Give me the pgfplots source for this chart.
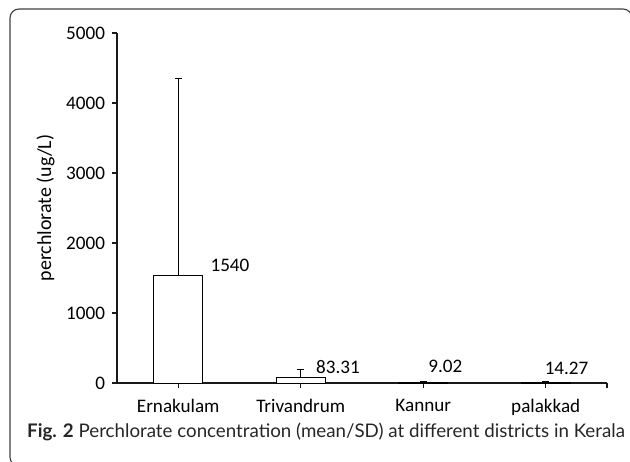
\documentclass[border=0pt]{standalone}
\usepackage{fontspec}
\setmainfont{Carlito}
\newfontfamily\capfont{Lato}
\usepackage{pgfplots}
\pgfplotsset{compat=1.18}

\begin{document}
\begin{tikzpicture}
\clip (0bp,0bp) rectangle (630bp,-462bp);
\path[use as bounding box] (0bp,0bp) rectangle (630bp,-462bp);
% frame
\draw[rounded corners=9bp, line width=1.1bp, black!75] (24bp,-466bp) -- (10bp,-466bp) -- (10bp,-9bp) -- (632bp,-9bp) -- (632bp,-30bp);

\begin{axis}[
  at={(117bp,-383bp)}, anchor=south west,
  scale only axis,
  width=490bp, height=350bp,
  xmin=-0.5, xmax=3.5,
  ymin=0, ymax=5000,
  axis x line=bottom, axis y line=left,
  axis line style={line width=1.6bp, -, black!90},
  xtick={0,1,2,3,3.5},
  xticklabels={Ernakulam,Trivandrum,Kannur,palakkad,},
  ytick={0,1000,...,5000},
  tick style={line width=1.3bp, black!90},
  major tick length=4.5bp,
  tick align=outside,
  x tick label style={yshift=-8bp},
  y tick label style={xshift=-4bp},
  ticklabel style={font=\fontsize{19.2}{21}\selectfont},
  /pgf/number format/assume math mode=true,
  /pgf/number format/1000 sep={},
  ylabel={perchlorate (ug/L)},
  ylabel style={at={(axis description cs:-0.146,0.5)}, anchor=center, font=\fontsize{20}{22}\selectfont},
  clip=false,
]
\addplot[ybar, bar width=0.4, draw=black, fill=white, line width=0.8bp]
  coordinates {(0,1540) (1,83.31) (2,9.02) (3,14.27)};
\addplot[draw=none, mark=none,
  error bars/.cd, y dir=plus, y explicit,
  error bar style={line width=0.9bp, black, solid},
  error mark options={line width=0.9bp, mark size=3.5bp, black, rotate=90}]
  coordinates {
  (0,1540) +- (0,2817)
  (1,83.31) +- (0,117)
  (2,9.02) +- (0,7)
  (3,14.27) +- (0,10)
};
\node[font=\fontsize{19.2}{21}\selectfont] at (axis cs:0.422,1686) {1540};
\node[font=\fontsize{19.2}{21}\selectfont] at (axis cs:1.304,229) {83.31};
\node[font=\fontsize{19.2}{21}\selectfont] at (axis cs:2.18,243) {9.02};
\node[font=\fontsize{19.2}{21}\selectfont] at (axis cs:3.17,214) {14.27};
\end{axis}

\node[anchor=west, inner sep=0pt, font=\capfont\fontsize{18.8}{20}\selectfont, black!85] at (27bp,-432bp) {\textbf{Fig. 2} Perchlorate concentration (mean/SD) at different districts in Kerala};
\end{tikzpicture}
\end{document}
